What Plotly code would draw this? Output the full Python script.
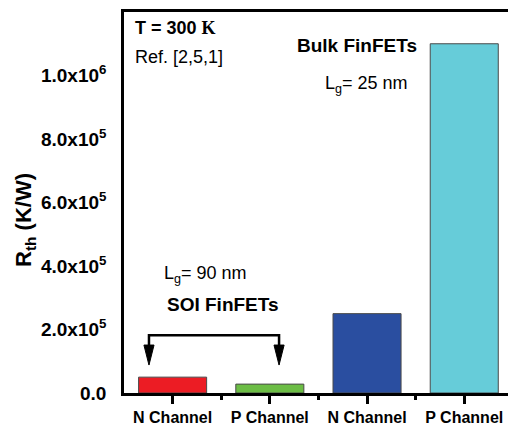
import plotly.graph_objects as go

# Thermal resistance of SOI and bulk FinFETs
categories = ["N Channel", "P Channel", "N Channel", "P Channel"]
rth_values = [5.0e4, 2.8e4, 2.5e5, 1.1e6]
bar_colors = ["#EC1C24", "#6CBD45", "#2A4EA0", "#66CCD9"]
y_tickvals = [0, 2e5, 4e5, 6e5, 8e5, 1e6]
y_ticktext = ["0.0", "2.0x10<sup>5</sup>", "4.0x10<sup>5</sup>", "6.0x10<sup>5</sup>",
              "8.0x10<sup>5</sup>", "1.0x10<sup>6</sup>"]

FONT = "Liberation Sans, Arial, sans-serif"
positions = list(range(len(categories)))

fig = go.Figure()
fig.add_trace(go.Bar(
    x=positions, y=rth_values, width=0.7,
    marker=dict(color=bar_colors, line=dict(color="#4a4a4a", width=1)),
    showlegend=False,
))

fig.update_layout(
    width=508, height=426,
    margin=dict(l=124, r=0, t=12, b=33),
    paper_bgcolor="white", plot_bgcolor="white",
    font=dict(family=FONT, color="black"),
    xaxis=dict(
        range=[-0.5, 3.45], showgrid=False, zeroline=False,
        showline=True, linecolor="black", linewidth=2.5, mirror=True,
        tickmode="array", tickvals=positions, ticktext=categories,
        ticks="outside", ticklen=8, tickwidth=2.5, tickcolor="black",
        tickfont=dict(family=FONT, size=16, color="black", weight="bold"),
        minor=dict(tickvals=[0.5, 1.5, 2.5], ticks="outside", ticklen=4,
                   tickwidth=2.5, tickcolor="black", showgrid=False),
    ),
    yaxis=dict(
        range=[0, 1.2e6], showgrid=False, zeroline=False,
        showline=True, linecolor="black", linewidth=2.5,
        tickmode="array", tickvals=y_tickvals, ticktext=y_ticktext,
        ticks="", ticklabelstandoff=11,
        tickfont=dict(family=FONT, size=19, color="black", weight="bold"),
    ),
)

# Axis title
fig.add_annotation(
    text="<b>R<sub>th</sub> (K/W)</b>", xref="paper", yref="paper",
    x=-0.258, y=0.454, xanchor="center", yanchor="middle",
    textangle=-90, showarrow=False,
    font=dict(family=FONT, size=22, color="black"),
)

texts = [
    dict(text="<b>T = 300 <span style='font-family:Liberation Serif'>K</span></b>",
         x=-0.41, y=1.15e6, xanchor="left", size=18),
    dict(text="Ref. [2,5,1]", x=-0.41, y=1.057e6, xanchor="left", size=18),
    dict(text="<b>Bulk FinFETs</b>", x=1.897, y=1.094e6, xanchor="center", size=19),
    dict(text="L<sub>g</sub>= 25 nm", x=1.547, y=0.972e6, xanchor="left", size=18),
    dict(text="L<sub>g</sub>= 90 nm", x=-0.11, y=3.72e5, xanchor="left", size=18),
    dict(text="<b>SOI FinFETs</b>", x=0.518, y=2.8e5, xanchor="center", size=19),
]
for t in texts:
    fig.add_annotation(
        text=t["text"], x=t["x"], y=t["y"], xref="x", yref="y",
        xanchor=t["xanchor"], yanchor="middle", showarrow=False,
        font=dict(family=FONT, size=t["size"], color="black"),
    )

# Bracket pointing down to the two SOI bars
xl, xr = -0.243, 1.095
y_top, y_head, y_tip = 1.82e5, 1.51e5, 0.88e5
hw = 0.052
fig.add_shape(type="path", xref="x", yref="y",
              path=f"M {xl},{y_head} L {xl},{y_top} L {xr},{y_top} L {xr},{y_head}",
              line=dict(color="black", width=2.5))
for xa in (xl, xr):
    fig.add_shape(type="path", xref="x", yref="y",
                  path=f"M {xa - hw},{y_head} L {xa + hw},{y_head} L {xa},{y_tip} Z",
                  fillcolor="black", line=dict(color="black", width=1))

fig.write_html("out.html")
